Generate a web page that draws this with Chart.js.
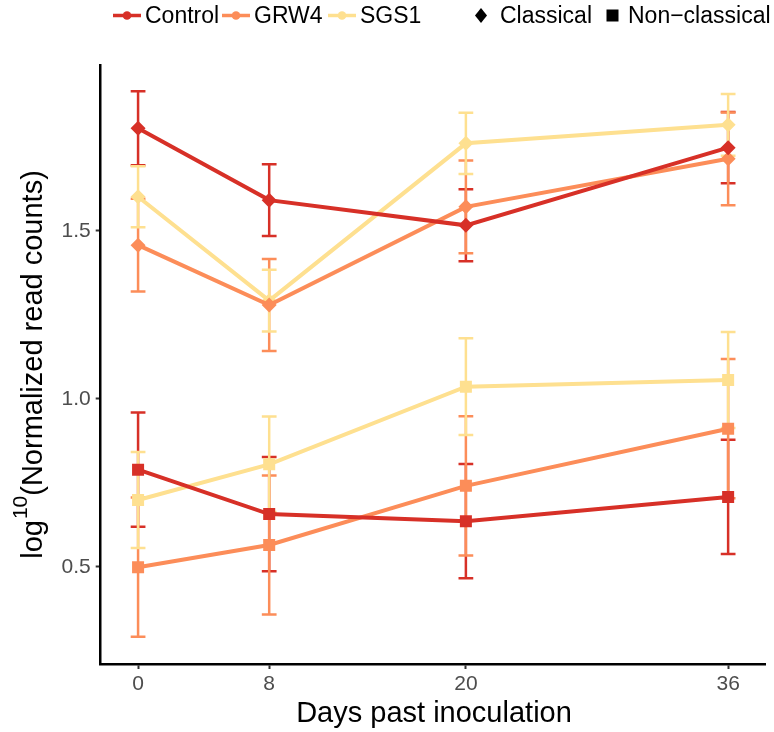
<!DOCTYPE html>
<html>
<head>
<meta charset="utf-8">
<script src="https://cdn.jsdelivr.net/npm/chart.js@4/dist/chart.umd.min.js"></script>
<style>
  html, body { margin: 0; padding: 0; background: #fff; }
  #wrap { width: 774px; height: 732px; position: relative; }
</style>
</head>
<body>
<div id="wrap"><canvas id="c" width="774" height="732"></canvas></div>
<script>
// ---- data ----
const days = [0, 8, 20, 36];
const xTicks = [0, 8, 20, 36];
const yTicks = [0.5, 1.0, 1.5];
const strains = ['Control', 'GRW4', 'SGS1'];
const types = ['Classical', 'Non\u2212classical'];

const controlClassical = [1.805, 1.591, 1.516, 1.747];
const controlClassicalErr = [0.110, 0.107, 0.107, 0.106];
const grw4Classical = [1.457, 1.279, 1.571, 1.714];
const grw4ClassicalErr = [0.138, 0.137, 0.138, 0.138];
const sgs1Classical = [1.601, 1.292, 1.760, 1.815];
const sgs1ClassicalErr = [0.091, 0.092, 0.091, 0.092];

const controlNon = [0.789, 0.657, 0.636, 0.708];
const controlNonErr = [0.170, 0.170, 0.170, 0.170];
const grw4Non = [0.499, 0.565, 0.741, 0.911];
const grw4NonErr = [0.207, 0.207, 0.207, 0.207];
const sgs1Non = [0.699, 0.805, 1.036, 1.056];
const sgs1NonErr = [0.143, 0.142, 0.144, 0.143];

// ---- styles ----
const colors = { Control: '#D73027', GRW4: '#FC8D59', SGS1: '#FEE090' };
const FONT = '"Liberation Sans", Arial, Helvetica, sans-serif';

function mk(label, strain, shape, vals, errs) {
  return {
    label: label,
    strain: strain,
    errs: errs,
    data: days.map((d, i) => ({ x: d, y: vals[i] })),
    borderColor: colors[strain],
    backgroundColor: colors[strain],
    pointBackgroundColor: colors[strain],
    pointBorderColor: colors[strain],
    borderWidth: 4,
    pointStyle: shape,
    pointRadius: shape === 'rectRot' ? 7.5 : 8.5,
    pointHoverRadius: shape === 'rectRot' ? 7.5 : 8.5,
    pointBorderWidth: 0,
    tension: 0,
    fill: false
  };
}

const datasets = [
  mk('Control Classical', 'Control', 'rectRot', controlClassical, controlClassicalErr),
  mk('Control Non-classical', 'Control', 'rect', controlNon, controlNonErr),
  mk('GRW4 Classical', 'GRW4', 'rectRot', grw4Classical, grw4ClassicalErr),
  mk('GRW4 Non-classical', 'GRW4', 'rect', grw4Non, grw4NonErr),
  mk('SGS1 Classical', 'SGS1', 'rectRot', sgs1Classical, sgs1ClassicalErr),
  mk('SGS1 Non-classical', 'SGS1', 'rect', sgs1Non, sgs1NonErr)
];

const errorBars = {
  id: 'errorBars',
  beforeDatasetsDraw(chart) {
    const ctx = chart.ctx;
    const xs = chart.scales.x, ys = chart.scales.y;
    const halfCap = 0.45;
    ctx.save();
    chart.data.datasets.forEach(ds => {
      ctx.strokeStyle = ds.borderColor;
      ctx.lineWidth = 2.5;
      ds.data.forEach((p, i) => {
        const e = ds.errs[i];
        const px = xs.getPixelForValue(p.x);
        const x0 = xs.getPixelForValue(p.x - halfCap);
        const x1 = xs.getPixelForValue(p.x + halfCap);
        const yTop = ys.getPixelForValue(p.y + e);
        const yBot = ys.getPixelForValue(p.y - e);
        ctx.beginPath();
        ctx.moveTo(px, yTop); ctx.lineTo(px, yBot);
        ctx.moveTo(x0, yTop); ctx.lineTo(x1, yTop);
        ctx.moveTo(x0, yBot); ctx.lineTo(x1, yBot);
        ctx.stroke();
      });
    });
    ctx.restore();
  }
};

const decorations = {
  id: 'decorations',
  afterDraw(chart) {
    const ctx = chart.ctx;
    const ca = chart.chartArea;
    ctx.save();
    ctx.fillStyle = '#000';
    // x title
    ctx.font = '29px ' + FONT;
    ctx.textAlign = 'center';
    ctx.textBaseline = 'alphabetic';
    ctx.fillText('Days past inoculation', 434, 722);

    // y title (rotated) with superscript, centred on the panel
    ctx.save();
    ctx.font = '29px ' + FONT;
    const wLog = ctx.measureText('log').width;
    const wRest = ctx.measureText('(Normalized read counts)').width;
    ctx.font = '21px ' + FONT;
    const wSup = ctx.measureText('10').width;
    const total = wLog + 1 + wSup + wRest;
    const cy = (ca.top + ca.bottom) / 2;
    ctx.translate(41.5, cy + total / 2);
    ctx.rotate(-Math.PI / 2);
    ctx.textAlign = 'left';
    ctx.font = '29px ' + FONT;
    let x = 0;
    ctx.fillText('log', x, 0);
    x += wLog + 1;
    ctx.font = '21px ' + FONT;
    ctx.fillText('10', x, -15);
    x += wSup;
    ctx.font = '29px ' + FONT;
    ctx.fillText('(Normalized read counts)', x, 0);
    ctx.restore();

    // legend
    const ly = 15.5;
    ctx.font = '23px ' + FONT;
    ctx.textBaseline = 'middle';
    ctx.textAlign = 'left';
    const keyStarts = [113, 222, 328];
    strains.forEach((s, i) => {
      const k = keyStarts[i];
      ctx.strokeStyle = colors[s];
      ctx.fillStyle = colors[s];
      ctx.lineWidth = 3.5;
      ctx.beginPath();
      ctx.moveTo(k, ly); ctx.lineTo(k + 28, ly);
      ctx.stroke();
      ctx.beginPath();
      ctx.arc(k + 14, ly, 4.3, 0, Math.PI * 2);
      ctx.fill();
      ctx.fillStyle = '#000';
      ctx.fillText(s, k + 32, ly + 1);
    });
    // shape legend
    ctx.fillStyle = '#000';
    ctx.beginPath();
    ctx.moveTo(481, ly - 7.5); ctx.lineTo(487, ly); ctx.lineTo(481, ly + 7.5); ctx.lineTo(475, ly);
    ctx.closePath(); ctx.fill();
    ctx.fillText(types[0], 500, ly + 1);
    ctx.fillRect(606.5, ly - 6, 12, 12);
    ctx.fillText(types[1], 628, ly + 1);
    ctx.restore();
  }
};

new Chart(document.getElementById('c'), {
  type: 'line',
  data: { datasets: datasets },
  options: {
    responsive: false,
    animation: false,
    events: [],
    layout: { padding: { left: 0, right: 4, top: 65, bottom: 0 } },
    plugins: { legend: { display: false }, tooltip: { enabled: false }, title: { display: false } },
    scales: {
      x: {
        type: 'linear',
        min: -2.28,
        max: 38.28,
        afterBuildTicks(s) { s.ticks = xTicks.map(v => ({ value: v })); },
        afterFit(s) { s.height = 68; },
        grid: { drawOnChartArea: false, drawTicks: true, tickLength: 5, tickWidth: 2, tickColor: '#333333' },
        border: { display: true, color: '#000', width: 2.5 },
        ticks: { color: '#4D4D4D', font: { family: FONT, size: 21 }, padding: 3, autoSkip: false, maxRotation: 0,
                 callback: v => String(v) }
      },
      y: {
        type: 'linear',
        min: 0.211,
        max: 1.993,
        afterBuildTicks(s) { s.ticks = yTicks.map(v => ({ value: v })); },
        afterFit(s) { s.width = 100.7; },
        grid: { drawOnChartArea: false, drawTicks: true, tickLength: 5, tickWidth: 2, tickColor: '#333333' },
        border: { display: true, color: '#000', width: 2.5 },
        ticks: { color: '#4D4D4D', font: { family: FONT, size: 21 }, padding: 5, autoSkip: false,
                 callback: v => Number(v).toFixed(1) }
      }
    }
  },
  plugins: [errorBars, decorations]
});
</script>
</body>
</html>
